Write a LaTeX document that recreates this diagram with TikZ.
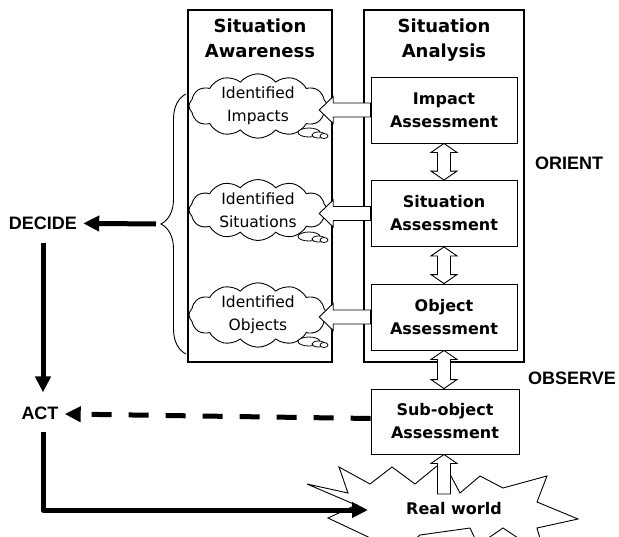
\documentclass[tikz,border=0pt]{standalone}
\usepackage{fontspec}
\setmainfont{DejaVu Sans}
\newfontfamily\phasefont{Liberation Sans}
\usepackage{tikz}
\usetikzlibrary{positioning,calc,arrows.meta,shapes.symbols,decorations.pathreplacing}

\tikzset{
  panel/.style={draw, line width=2.4pt, minimum width=144pt, minimum height=352pt},
  paneltitle/.style={align=center, font=\bfseries\fontsize{18}{25}\selectfont},
  assess/.style={draw, line width=0.9pt, minimum width=146pt, minimum height=66pt, align=center, font=\bfseries\fontsize{16}{23}\selectfont},
  thought/.style={cloud, draw, line width=0.9pt, cloud puffs=12, cloud puff arc=100, cloud ignores aspect, minimum width=138pt, minimum height=54pt, inner sep=0pt, align=center, font=\fontsize{15.5}{23}\selectfont},
  bubble/.style={draw, line width=0.8pt, fill=white},
  hollow/.style={draw, line width=0.9pt, fill=white, line join=miter},
  phase/.style={inner sep=6pt, font=\phasefont\bfseries\fontsize{18}{22}\selectfont},
  bigarrow/.style={line width=5pt, -{Triangle[length=16pt,width=15pt]}},
}

% small thought bubbles under a cloud
\newcommand\thinking[1]{
  \draw[bubble] ($(#1)+(51,26.5)$) ellipse [x radius=11pt, y radius=4.5pt];
  \draw[bubble] ($(#1)+(60.5,29)$) ellipse [x radius=6.5pt, y radius=3pt];
  \draw[bubble] ($(#1)+(66,30)$) ellipse [x radius=4pt, y radius=2.5pt];
}
% hollow double arrow, #1 top tip, #2 bottom tip
\newcommand\twoway[2]{
  \draw[hollow] let \p1=(#1), \p2=(#2) in (\x1,\y1) -- (\x1+13pt,\y1-9pt) -- (\x1+6.5pt,\y1-9pt)
    -- (\x1+6.5pt,\y2+9pt) -- (\x1+13pt,\y2+9pt) -- (\x1,\y2) -- (\x1-13pt,\y2+9pt) -- (\x1-6.5pt,\y2+9pt)
    -- (\x1-6.5pt,\y1-9pt) -- (\x1-13pt,\y1-9pt) -- cycle;
}
% hollow arrow from a box into the awareness panel
\newcommand\fatleft[1]{
  \draw[hollow] let \p1=(#1.west), \p2=(aware.east) in (\x2-14pt,\y1) -- (\x2,\y1+13.5pt) -- (\x2,\y1+7pt)
    -- (\x1,\y1+7pt) -- (\x1,\y1-7pt) -- (\x2,\y1-7pt) -- (\x2,\y1-13.5pt) -- cycle;
}
% hollow arrow upwards, #1 foot, #2 tip
\newcommand\fatup[2]{
  \draw[hollow] let \p1=(#1), \p2=(#2) in (\x1,\y2) -- (\x1+13pt,\y2-9pt) -- (\x1+6.5pt,\y2-9pt)
    -- (\x1+6.5pt,\y1) -- (\x1-6.5pt,\y1) -- (\x1-6.5pt,\y2-9pt) -- (\x1-13pt,\y2-9pt) -- cycle;
}

\begin{document}
\begin{tikzpicture}[x=1pt,y=-1pt]
\useasboundingbox (0,0) rectangle (619,536);

\node[panel] (aware) at (260,186) {};
\node[panel, minimum width=160pt] (analysis) at (444,186) {};
\node[paneltitle, below=6pt of aware.north] (awaretitle) {Situation\\Awareness};
\node[paneltitle, below=6pt of analysis.north] (analysistitle) {Situation\\Analysis};

\node[assess] (impact) at (444,110) {Impact\\Assessment};
\node[assess] (situation) at (444,213.5) {Situation\\Assessment};
\node[assess] (object) at (444,317) {Object\\Assessment};
\node[assess, minimum width=148pt, minimum height=65pt] (subobj) at (445,421.5) {Sub-object\\Assessment};

\node[thought] (seenimpacts) at (258,106) {Identified\\Impacts};
\node[thought] (seensituations) at (258,210) {Identified\\Situations};
\node[thought] (seenobjects) at (258,315) {Identified\\Objects};
\thinking{seenimpacts}
\thinking{seensituations}
\thinking{seenobjects}

\fatleft{impact}
\fatleft{situation}
\fatleft{object}
\twoway{impact.south}{situation.north}
\twoway{situation.south}{object.north}
\twoway{object.south}{subobj.north}

% real world
\draw[line width=0.9pt, fill=white] (328,518) -- (356,505) -- (307,484) -- (348,493) -- (339,467)
  -- (370,484) -- (392,467) -- (415,484) -- (443,461) -- (460,493) -- (480,476) -- (503,488)
  -- (547,476) -- (537,502) -- (578,519) -- (537,528) -- (545,556) -- (503,528) -- (478,545)
  -- (470,528) -- (420,535) -- (400,552) -- cycle;
\node[font=\bfseries\fontsize{16}{20}\selectfont] (real) at (454,509) {Real world};
\coordinate (ground) at (444,494);
\fatup{ground}{subobj.south}

\draw[decorate, decoration={brace, amplitude=25pt}, line width=0.9pt] (186,354) -- (186,94);
\coordinate (bracetip) at (156,224);

\node[phase] (decide) at (43,223) {DECIDE};
\node[phase] (act) at (40,413) {ACT};
\node[phase] (orient) at (569,163) {ORIENT};
\node[phase] (observe) at (572,378) {OBSERVE};
\coordinate (landing) at (368,510);

\draw[bigarrow] (bracetip) -- (decide);
\draw[bigarrow, shorten <=7pt, shorten >=8pt] (decide.south) -- (decide.south |- act.north);
\draw[bigarrow, line join=round, shorten <=6pt] ([xshift=3pt]act.south) |- (landing);
\draw[bigarrow, dash pattern=on 20pt off 17pt] ([yshift=3pt]subobj.west) -- ([yshift=-1pt]act.east);
\end{tikzpicture}
\end{document}
